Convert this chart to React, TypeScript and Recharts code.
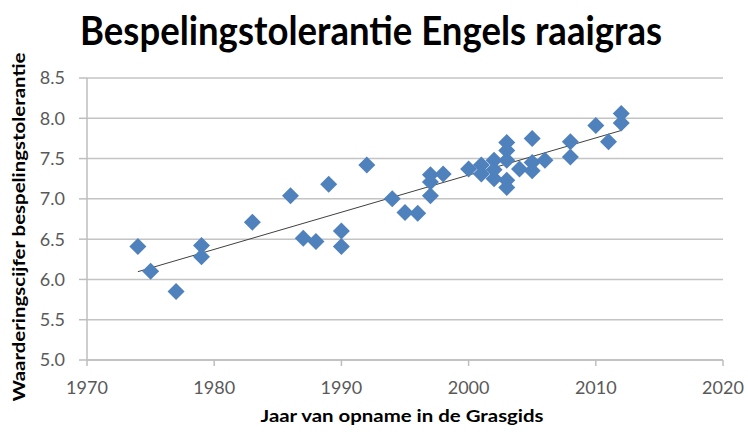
import React from 'react';
import {
  ScatterChart,
  Scatter,
  XAxis,
  YAxis,
  CartesianGrid,
  Label,
} from 'recharts';

// Jaar van opname en waarderingscijfer per ras
const years = [
  1974, 1975, 1977, 1979, 1979, 1983, 1986, 1987, 1988, 1989, 1990, 1990,
  1992, 1994, 1995, 1996, 1997, 1997, 1997, 1998, 2000, 2001, 2001, 2002,
  2002, 2002, 2003, 2003, 2003, 2003, 2003, 2004, 2005, 2005, 2005, 2006,
  2008, 2008, 2010, 2011, 2012, 2012,
];
const scores = [
  6.41, 6.1, 5.85, 6.42, 6.28, 6.71, 7.04, 6.51, 6.47, 7.18, 6.6, 6.41,
  7.42, 7.0, 6.83, 6.82, 7.3, 7.21, 7.04, 7.31, 7.37, 7.42, 7.31, 7.48,
  7.25, 7.36, 7.7, 7.6, 7.48, 7.23, 7.14, 7.37, 7.75, 7.45, 7.35, 7.48,
  7.71, 7.52, 7.91, 7.71, 8.06, 7.94,
];

const xTicks = [1970, 1980, 1990, 2000, 2010, 2020];
const yTicks = [5.0, 5.5, 6.0, 6.5, 7.0, 7.5, 8.0, 8.5];

const points = years.map((x, i) => ({ x, y: scores[i] }));

// lineaire trendlijn (kleinste kwadraten)
const n = years.length;
const mx = years.reduce((a, b) => a + b, 0) / n;
const my = scores.reduce((a, b) => a + b, 0) / n;
let sxy = 0;
let sxx = 0;
years.forEach((x, i) => {
  sxy += (x - mx) * (scores[i] - my);
  sxx += (x - mx) * (x - mx);
});
const slope = sxy / sxx;
const x0 = Math.min(...years);
const x1 = Math.max(...years);
const trend = [
  { x: x0, y: my + slope * (x0 - mx) },
  { x: x1, y: my + slope * (x1 - mx) },
];

const FONT = 'Lato, "Open Sans", sans-serif';
const BLUE = '#4F81BD';

const Diamond = (props: any) => {
  const { cx, cy } = props;
  const r = 8.5;
  return (
    <polygon
      points={`${cx},${cy - r} ${cx + r},${cy} ${cx},${cy + r} ${cx - r},${cy}`}
      fill={BLUE}
    />
  );
};

const App = () => {
  return (
    <div style={{ position: 'absolute', left: 0, top: 0, width: 748, height: 432, background: '#fff' }}>
      <ScatterChart
        width={748}
        height={432}
        margin={{ top: 78, right: 25, bottom: 42, left: 27 }}
        style={{ overflow: 'visible' }}
      >
        <CartesianGrid vertical={false} stroke="#C4C4C4" strokeWidth={1.5} />
        <XAxis
          type="number"
          dataKey="x"
          domain={[1970, 2020]}
          ticks={xTicks}
          height={30}
          stroke="#BEBEBE"
          strokeWidth={1.5}
          tickSize={6}
          tickMargin={15}
          tick={{ fill: '#595959', fontSize: 18, fontFamily: FONT }}
        >
          <Label
            content={() => (
              <text
                x={402}
                y={422}
                textAnchor="middle"
                fontFamily={FONT}
                fontWeight="bold"
                fontSize={17}
                fill="#000"
                textLength={283}
                lengthAdjust="spacingAndGlyphs"
              >
                Jaar van opname in de Grasgids
              </text>
            )}
          />
        </XAxis>
        <YAxis
          type="number"
          dataKey="y"
          domain={[5, 8.5]}
          ticks={yTicks}
          width={60}
          stroke="#BEBEBE"
          strokeWidth={1.5}
          tickSize={8}
          tickMargin={14}
          tickFormatter={(v: number) => v.toFixed(1)}
          tick={{ fill: '#595959', fontSize: 18, fontFamily: FONT }}
        >
          <Label
            content={() => (
              <text
                x={25}
                y={227}
                transform="rotate(-90, 25, 227)"
                textAnchor="middle"
                fontFamily={FONT}
                fontWeight="bold"
                fontSize={17}
                fill="#000"
                textLength={349}
                lengthAdjust="spacingAndGlyphs"
              >
                Waarderingscijfer bespelingstolerantie
              </text>
            )}
          />
        </YAxis>
        <Scatter
          data={trend}
          line={{ stroke: '#404040', strokeWidth: 1 }}
          shape={() => null}
          isAnimationActive={false}
        />
        <Scatter data={points} shape={<Diamond />} isAnimationActive={false} />
      </ScatterChart>
      <svg
        width={748}
        height={70}
        style={{ position: 'absolute', left: 0, top: 0, pointerEvents: 'none' }}
      >
        <text
          x={371}
          y={45}
          textAnchor="middle"
          fontFamily={FONT}
          fontWeight="bold"
          fontSize={40}
          fill="#000"
          textLength={582}
          lengthAdjust="spacingAndGlyphs"
        >
          Bespelingstolerantie Engels raaigras
        </text>
      </svg>
    </div>
  );
};

export default App;
